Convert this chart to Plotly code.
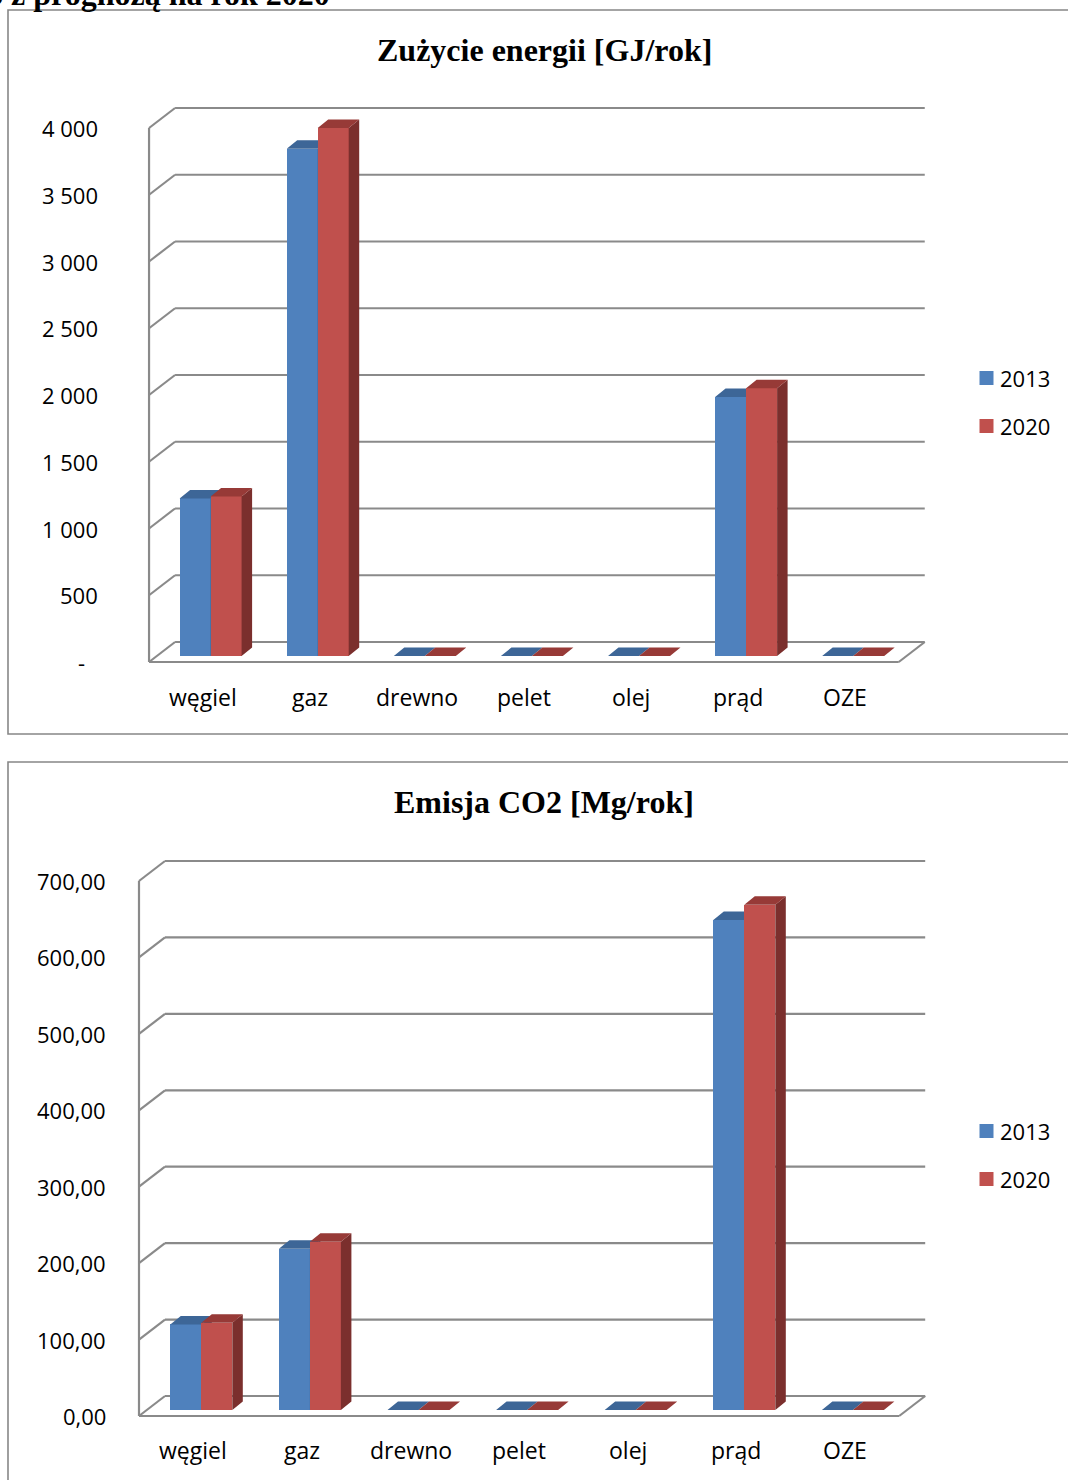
import plotly.graph_objects as go

# ---- data -------------------------------------------------------------
categories = ["węgiel", "gaz", "drewno", "pelet", "olej", "prąd", "OZE"]
years = ["2013", "2020"]

energy_2013 = [1180, 3800, 0, 0, 0, 1940, 0]
energy_2020 = [1195, 3955, 0, 0, 0, 2005, 0]

co2_2013 = [112, 211, 0, 0, 0, 641, 0]
co2_2020 = [114, 220, 0, 0, 0, 661, 0]

energy_ticks = [0, 500, 1000, 1500, 2000, 2500, 3000, 3500, 4000]
energy_tick_text = ["-", "500", "1 000", "1 500", "2 000", "2 500", "3 000", "3 500", "4 000"]

co2_ticks = [0, 100, 200, 300, 400, 500, 600, 700]
co2_tick_text = ["0,00", "100,00", "200,00", "300,00", "400,00", "500,00", "600,00", "700,00"]

# ---- style ------------------------------------------------------------
W, H = 1068, 1480
FRONT_FACE = {"2013": "#4F81BD", "2020": "#C0504D"}
TOP_FACE = {"2013": "#3D6697", "2020": "#973A37"}
SIDE_FACE = {"2013": "#385D8A", "2020": "#7B2F2D"}
GRID = "#8A8A8A"
BORDER = "#878787"
SANS = "Open Sans"
SERIF = "Liberation Serif"
LABEL_SIZE = 23

# oblique projection offsets in pixels (dx to the right, dy upwards),
# measured from the plane of the bar front faces
FRONT_OFF = (-8.0, -6.0)   # front edge of the floor / value axis
BACK_OFF = (18.0, 14.0)    # back wall
DEPTH_OFF = (10.5, 8.5)    # depth of a single bar
BAR_PX = 31.0              # width of one bar front face

panels = [
    dict(title="Zużycie energii [GJ/rok]", series=(energy_2013, energy_2020),
         ticks=energy_ticks, tick_text=energy_tick_text,
         box=(10, 734), x0=210.6, step=107.1, y0=656.0, k=534.0 / 4000,
         axes=(("x", "y"), ("x2", "y2")), tick_right=100, label_y=697,
         title_y=50, legend_y=(378, 426)),
    dict(title="Emisja CO2 [Mg/rok]", series=(co2_2013, co2_2020),
         ticks=co2_ticks, tick_text=co2_tick_text,
         box=(762, 1480), x0=201.3, step=108.6, y0=1410.0, k=535.0 / 700,
         axes=(("x3", "y3"), ("x4", "y4")), tick_right=108, label_y=1450,
         title_y=802, legend_y=(1131, 1179)),
]


def px_x(px):
    return px / W


def px_y(py):
    return 1 - py / H


fig = go.Figure()
shapes = []
annotations = []
layout_axes = {}

for p in panels:
    step, k = p["step"], p["k"]
    top, bottom = p["box"]
    xr = [(0 - p["x0"]) / step, (W - p["x0"]) / step]
    yr = [(p["y0"] - bottom) / k, (p["y0"] - top) / k]
    dom_y = [px_y(bottom), px_y(top)]

    fdx, fdv = FRONT_OFF[0] / step, FRONT_OFF[1] / k
    bdx, bdv = BACK_OFF[0] / step, BACK_OFF[1] / k
    ddx, ddv = DEPTH_OFF[0] / step, DEPTH_OFF[1] / k
    bw = BAR_PX / step
    x_left, x_right = -0.5, len(categories) - 0.5

    (xa, ya), (xb, yb) = p["axes"]
    for j, (xn, yn) in enumerate(p["axes"]):
        xkey = "xaxis" + xn[1:]
        ykey = "yaxis" + yn[1:]
        xd = dict(range=xr, domain=[0, 1], visible=False, fixedrange=True, anchor=yn)
        yd = dict(range=yr, domain=dom_y, visible=False, fixedrange=True, anchor=xn)
        if j == 1:
            xd["overlaying"] = xa
            yd["overlaying"] = ya
        layout_axes[xkey] = xd
        layout_axes[ykey] = yd

    # walls: front value axis, gridlines bent onto the back wall, floor
    def seg(xa0, ya0, xa1, ya1):
        shapes.append(dict(type="line", xref=xa, yref=ya, x0=xa0, y0=ya0, x1=xa1, y1=ya1,
                           line=dict(color=GRID, width=2.2), layer="below"))

    tmax = max(p["ticks"])
    seg(x_left + fdx, fdv, x_left + fdx, tmax + fdv)
    for t in p["ticks"]:
        seg(x_left + fdx, t + fdv, x_left + bdx, t + bdv)
        seg(x_left + bdx, t + bdv, x_right + bdx, t + bdv)
    seg(x_left + fdx, fdv, x_right + fdx, fdv)
    seg(x_right + fdx, fdv, x_right + bdx, bdv)

    # bars: one overlay per year so that the later series hides the earlier one
    for j, (year, vals) in enumerate(zip(years, p["series"])):
        xn, yn = p["axes"][j]
        xs = list(range(len(categories)))
        offset = -bw if j == 0 else 0.0
        fig.add_trace(go.Bar(
            x=xs, y=vals, base=0, width=bw, offset=offset,
            marker=dict(color=FRONT_FACE[year], line=dict(width=0)),
            xaxis=xn, yaxis=yn, showlegend=False, name=year,
        ))
        top_x, top_y, side_x, side_y = [], [], [], []
        for i, v in zip(xs, vals):
            x0 = i + offset
            x1 = x0 + bw
            top_x += [x0, x1, x1 + ddx, x0 + ddx, x0, None]
            top_y += [v, v, v + ddv, v + ddv, v, None]
            if v > 0:
                side_x += [x1, x1, x1 + ddx, x1 + ddx, x1, None]
                side_y += [0, v, v + ddv, ddv, 0, None]
        if side_x:
            fig.add_trace(go.Scatter(
                x=side_x, y=side_y, mode="lines", fill="toself",
                fillcolor=SIDE_FACE[year], line=dict(width=0),
                xaxis=xn, yaxis=yn, showlegend=False, hoverinfo="skip"))
        fig.add_trace(go.Scatter(
            x=top_x, y=top_y, mode="lines", fill="toself",
            fillcolor=TOP_FACE[year], line=dict(width=0),
            xaxis=xn, yaxis=yn, showlegend=False, hoverinfo="skip"))

    # value labels on the front axis
    for t, txt in zip(p["ticks"], p["tick_text"]):
        dash = txt == "-"
        annotations.append(dict(
            xref="paper", yref=ya, x=px_x(p["tick_right"] - (13 if dash else 0)),
            y=t + fdv, text=txt, showarrow=False,
            xanchor="right", yanchor="middle",
            font=dict(family=SANS, size=LABEL_SIZE - 1, color="#000")))

    # category labels under the floor
    for i, c in enumerate(categories):
        annotations.append(dict(
            xref=xa, yref="paper", x=i + fdx, y=px_y(p["label_y"]),
            text=c, showarrow=False, xanchor="center", yanchor="middle",
            font=dict(family=SANS, size=LABEL_SIZE, color="#000")))

    # title
    annotations.append(dict(
        xref="paper", yref="paper", x=px_x(544), y=px_y(p["title_y"]),
        text=p["title"], showarrow=False, xanchor="center", yanchor="middle",
        font=dict(family=SERIF, size=32, color="#000", weight="bold")))

    # legend
    for year, ly in zip(years, p["legend_y"]):
        shapes.append(dict(type="rect", xref="paper", yref="paper",
                           x0=px_x(979.5), x1=px_x(993.5),
                           y0=px_y(ly + 7), y1=px_y(ly - 7),
                           fillcolor=FRONT_FACE[year], line=dict(width=0)))
        annotations.append(dict(
            xref="paper", yref="paper", x=px_x(998), y=px_y(ly),
            text=year, showarrow=False, xanchor="left", yanchor="middle",
            font=dict(family=SANS, size=LABEL_SIZE - 1, color="#000")))

    # frame around the chart
    shapes.append(dict(type="rect", xref="paper", yref="paper",
                       x0=px_x(8), x1=px_x(W + 20),
                       y0=px_y(bottom if bottom < H else H + 20), y1=px_y(top),
                       line=dict(color=BORDER, width=1.6), fillcolor="rgba(0,0,0,0)",
                       layer="above"))

# caption line running off the top edge of the page
annotations.append(dict(
    xref="paper", yref="paper", x=px_x(332), y=px_y(-6),
    text="2013 z prognozą na rok 2020", showarrow=False,
    xanchor="right", yanchor="middle",
    font=dict(family=SERIF, size=32, color="#000", weight="bold")))

fig.update_layout(
    width=W, height=H,
    margin=dict(l=0, r=0, t=0, b=0),
    paper_bgcolor="white", plot_bgcolor="rgba(0,0,0,0)",
    barmode="overlay", bargap=0,
    shapes=shapes, annotations=annotations,
    showlegend=False,
    **layout_axes,
)

fig.write_html("out.html")
